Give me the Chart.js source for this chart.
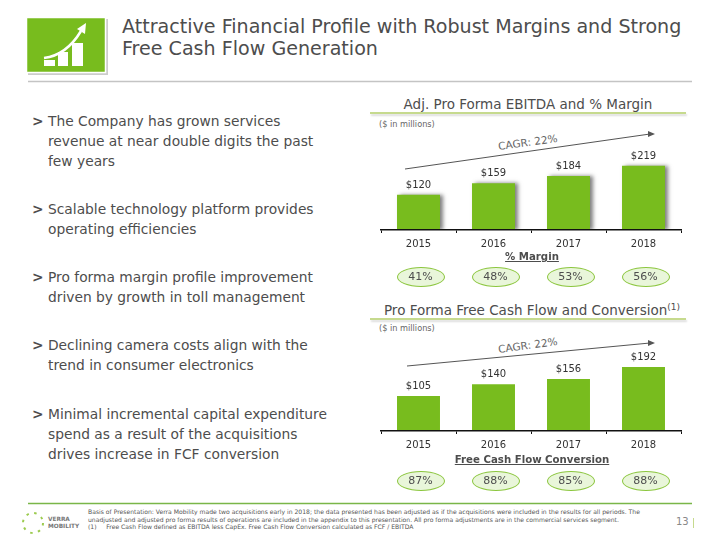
<!DOCTYPE html>
<html lang="en">
  <head>
    <meta charset="UTF-8" />
    <script src="https://cdn.jsdelivr.net/npm/chart.js@4/dist/chart.umd.min.js"></script>
    <title>Attractive Financial Profile</title>
    <style>
      body { margin: 0; width: 720px; height: 540px; overflow: hidden; background: #fff; position: relative;
             font-family: "DejaVu Sans", Verdana, sans-serif; color: #4d4d4d; }
      .abs { position: absolute; white-space: nowrap; }
      canvas { position: absolute; }
      .title { left: 122px; top: 16px; font-size: 19.1px; line-height: 21.5px; }
      .bullet { left: 48px; font-size: 13.8px; line-height: 20px; }
      .bullet::before { content: ">"; position: absolute; left: -16px; font-weight: bold; }
      .head { font-size: 13.5px; line-height: 18px; text-align: center; }
      .rule { height: 2px; background: #c6da8e; box-shadow: 1px 2px 2px #ddd; left: 370px; width: 316px; }
      .units { left: 379px; font-size: 8.2px; color: #666; }
      .sub { font-size: 10.2px; font-weight: bold; text-decoration: underline; text-align: center; }
      .oval { width: 46px; height: 18px; border: 1.5px solid #8cc63f; border-radius: 50%; background: #e9f6da;
              text-align: center; font-size: 11px; line-height: 18px; }
      .cagr { font-size: 10.5px; transform: rotate(-8deg); color: #666; }
      .foot { left: 88px; font-size: 6.08px; line-height: 7.6px; top: 508px; color: #555; }
    </style>
  </head>
  <body>
    <svg class="abs" style="left:0;top:0" width="720" height="540">
      <rect x="28" y="19" width="80" height="56" fill="#ccc" />
      <rect x="26.5" y="17.5" width="79" height="55" fill="#78bc1e" stroke="#fff" stroke-width="1.5" />
      <path d="M44 66h11v-6h-11zM58 66h10v-14h-10zM72 66h11v-23h-11z" fill="#fff" />
      <path d="M44 58C60 56 72 46 81 31" fill="none" stroke="#fff" stroke-width="2.5" />
      <path d="M86 23l-1 11-8-5z" fill="#fff" />
      <line x1="28" y1="81.5" x2="692" y2="81.5" stroke="#c4c4c4" stroke-width="1.5" />
      <line x1="28" y1="503.5" x2="692" y2="503.5" stroke="#7ab648" stroke-width="1.5" />
      <line x1="405" y1="169" x2="650" y2="134" stroke="#555" stroke-width="1" />
      <path d="M655 134l-7-3v6z" fill="#555" />
      <line x1="407" y1="366" x2="650" y2="343" stroke="#555" stroke-width="1" />
      <path d="M655 343l-7-3v6z" fill="#555" />
      <circle cx="33" cy="523" r="10" fill="none" stroke="#9ccb4f" stroke-width="2" stroke-dasharray="2.5 5.5" />
      <line x1="693.5" y1="518" x2="693.5" y2="528" stroke="#c6da8e" stroke-width="1" />
    </svg>

    <div class="abs title">Attractive Financial Profile with Robust Margins and Strong<br />Free Cash Flow Generation</div>

    <div class="abs bullet" style="top:111px">The Company has grown services<br />revenue at near double digits the past<br />few years</div>
    <div class="abs bullet" style="top:199px">Scalable technology platform provides<br />operating efficiencies</div>
    <div class="abs bullet" style="top:267px">Pro forma margin profile improvement<br />driven by growth in toll management</div>
    <div class="abs bullet" style="top:335px">Declining camera costs align with the<br />trend in consumer electronics</div>
    <div class="abs bullet" style="top:404px">Minimal incremental capital expenditure<br />spend as a result of the acquisitions<br />drives increase in FCF conversion</div>

    <div class="abs head" style="left:370px;width:316px;top:95px">Adj. Pro Forma EBITDA and % Margin</div>
    <div class="abs rule" style="top:112px"></div>
    <div class="abs units" style="top:119px">($ in millions)</div>
    <div class="abs cagr" style="left:498px;top:136px">CAGR: 22%</div>
    <canvas id="chart1" width="320" height="135" style="left:371px;top:120px"></canvas>
    <div class="abs sub" style="left:374px;width:316px;top:251px">% Margin</div>

    <div class="abs head" style="left:374px;width:316px;top:301px">Pro Forma Free Cash Flow and Conversion<sup style="font-size:9px;line-height:0">(1)</sup></div>
    <div class="abs rule" style="top:318px"></div>
    <div class="abs units" style="top:323px">($ in millions)</div>
    <div class="abs cagr" style="left:498px;top:339px">CAGR: 22%</div>
    <canvas id="chart2" width="320" height="135" style="left:371px;top:321px"></canvas>
    <div class="abs sub" style="left:374px;width:316px;top:454px">Free Cash Flow Conversion</div>

    <div class="abs foot">Basis of Presentation: Verra Mobility made two acquisitions early in 2018; the data presented has been adjusted as if the acquisitions were included in the results for all periods. The<br />unadjusted and adjusted pro forma results of operations are included in the appendix to this presentation. All pro forma adjustments are in the commercial services segment.<br />(1)&nbsp;&nbsp;&nbsp;&nbsp;&nbsp;Free Cash Flow defined as EBITDA less CapEx. Free Cash Flow Conversion calculated as FCF / EBITDA</div>
    <div class="abs" style="left:48px;top:516px;font-size:5.8px;line-height:7px;font-weight:bold;color:#777">VERRA<br />MOBILITY</div>
    <div class="abs" style="left:676px;top:516px;font-size:10px;color:#888">13</div>

    <script>
      const years = ["2015", "2016", "2017", "2018"];
      const ebitda = [120, 159, 184, 219];
      const margin = ["41%", "48%", "53%", "56%"];
      const fcf = [105, 140, 156, 192];
      const conversion = ["87%", "88%", "85%", "88%"];

      // only the top chart has a shadow behind its bars
      const barShadow = {
        id: "barShadow",
        beforeDatasetDraw(chart) {
          const ctx = chart.ctx;
          ctx.save();
          ctx.shadowColor = "rgba(0,0,0,0.5)";
          ctx.shadowBlur = 4;
          ctx.shadowOffsetX = 3;
          ctx.shadowOffsetY = 0;
        },
        afterDatasetDraw(chart) {
          chart.ctx.restore();
        },
      };

      // $ labels above the bars
      const barLabels = {
        id: "barLabels",
        afterDatasetsDraw(chart) {
          const ctx = chart.ctx;
          ctx.save();
          ctx.font = '10px "DejaVu Sans"';
          ctx.fillStyle = "#333";
          ctx.textAlign = "center";
          chart.getDatasetMeta(0).data.forEach((bar, i) => {
            ctx.fillText("$" + chart.data.datasets[0].data[i], bar.x, bar.y - 7);
          });
          ctx.restore();
        },
      };

      function drawChart(id, values, yMax, pills, pillTop, plugins) {
        const chart = new Chart(document.getElementById(id), {
          type: "bar",
          data: {
            labels: years,
            datasets: [{ data: values, backgroundColor: "#78bc1e", barPercentage: 0.573, categoryPercentage: 1 }],
          },
          plugins: plugins,
          options: {
            responsive: false,
            animation: false,
            layout: { padding: { left: 10, right: 10, top: 0, bottom: 0 } },
            plugins: { legend: { display: false }, tooltip: { enabled: false } },
            scales: {
              x: {
                afterFit: (scale) => { scale.height = 25; },
                grid: { drawOnChartArea: false, tickLength: 3, color: "#111", tickWidth: 1 },
                border: { color: "#111", width: 1.5, z: 1 },
                ticks: { color: "#333", font: { family: "DejaVu Sans", size: 10 }, padding: 5, maxRotation: 0 },
              },
              y: { display: false, min: 0, max: yMax },
            },
          },
        });
        // the ovals sit under each category, a little right of the bar centre
        pills.forEach((text, i) => {
          const div = document.createElement("div");
          div.className = "abs oval";
          div.textContent = text;
          div.style.left = 371 + chart.scales.x.getPixelForTick(i) - 22 + "px";
          div.style.top = pillTop + "px";
          document.body.appendChild(div);
        });
      }

      drawChart("chart1", ebitda, 375, margin, 267, [barShadow, barLabels]);
      drawChart("chart2", fcf, 330, conversion, 471, [barLabels]);
    </script>
  </body>
</html>
